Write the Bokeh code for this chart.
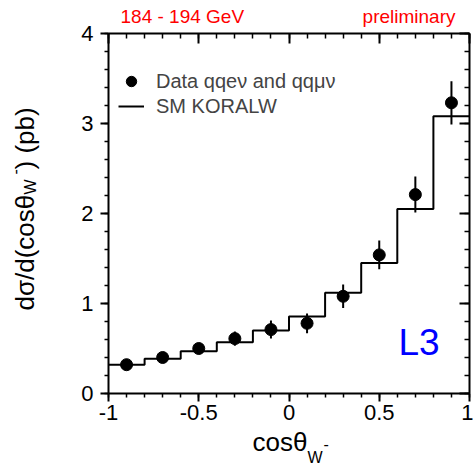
import math
from bokeh.plotting import figure
from bokeh.models import (Label, LinearAxis, FixedTicker, Legend, LegendItem,
                          ColumnDataSource, Range1d)
from bokeh.embed import file_html
from bokeh.resources import INLINE

# ---- data -------------------------------------------------------------
x_centers = [-0.9, -0.7, -0.5, -0.3, -0.1, 0.1, 0.3, 0.5, 0.7, 0.9]
data_y = [0.32, 0.40, 0.50, 0.61, 0.71, 0.78, 1.08, 1.54, 2.21, 3.23]
data_err = [0.03, 0.04, 0.06, 0.08, 0.10, 0.11, 0.13, 0.16, 0.20, 0.24]

bin_edges = [-1.0, -0.8, -0.6, -0.4, -0.2, 0.0, 0.2, 0.4, 0.6, 0.8, 1.0]
sm_y = [0.32, 0.385, 0.47, 0.57, 0.70, 0.855, 1.12, 1.45, 2.05, 3.08]

x_ticks = [-1, -0.5, 0, 0.5, 1]
x_tick_labels = ["-1", "-0.5", "0", "0.5", "1"]
x_minor = [-1.0, -0.9, -0.8, -0.7, -0.6, -0.5, -0.4, -0.3, -0.2, -0.1, 0.0,
           0.1, 0.2, 0.3, 0.4, 0.5, 0.6, 0.7, 0.8, 0.9, 1.0]
y_ticks = [0, 1, 2, 3, 4]
y_tick_labels = ["0", "1", "2", "3", "4"]
y_minor = [0.0, 0.2, 0.4, 0.6, 0.8, 1.0, 1.2, 1.4, 1.6, 1.8, 2.0, 2.2, 2.4,
           2.6, 2.8, 3.0, 3.2, 3.4, 3.6, 3.8, 4.0]
x_lim = (-1.0, 1.0)
y_lim = (0.0, 4.0)

FONT = "Liberation Sans"

# ---- layout geometry (page pixels) -------------------------------------
W, H = 473, 472
FL, FR, FT, FB = 108.0, 469.0, 33.0, 393.0   # edges of the axes box
KX = (FR - FL) / (x_lim[1] - x_lim[0])       # px per x unit
KY = (FB - FT) / (y_lim[1] - y_lim[0])       # px per y unit


def dx(px):
    return x_lim[0] + (px - FL) / KX


def dy(py):
    return y_lim[0] + (FB - py) / KY


p = figure(width=W, height=H,
           x_range=Range1d(dx(0), dx(W)), y_range=Range1d(dy(H), dy(0)),
           output_backend="svg", toolbar_location=None,
           min_border=0, min_border_left=0, min_border_right=0,
           min_border_top=0, min_border_bottom=0,
           x_axis_location=None, y_axis_location=None)
p.grid.visible = False
p.outline_line_color = None
p.background_fill_color = "white"
p.border_fill_color = "white"


def style_axis(ax, ticks, minor, labels, outward, show_labels):
    ax.ticker = FixedTicker(ticks=ticks, minor_ticks=minor)
    ax.axis_line_width = 2
    ax.axis_line_color = "black"
    ax.major_tick_line_width = 2
    ax.minor_tick_line_width = 1.5
    if outward:
        ax.major_tick_out, ax.major_tick_in = 8, 0
        ax.minor_tick_out, ax.minor_tick_in = 4, 0
    else:
        ax.major_tick_out, ax.major_tick_in = 0, 10
        ax.minor_tick_out, ax.minor_tick_in = 0, 5
    if show_labels:
        ax.major_label_overrides = {t: l for t, l in zip(ticks, labels)}
        ax.major_label_text_font = FONT
        ax.major_label_text_font_size = "22px"
        ax.major_label_text_color = "black"
    else:
        ax.major_label_text_font_size = "0px"
        ax.major_label_standoff = 0
        ax.major_label_overrides = {t: "" for t in ticks}
    ax.axis_label = None


bottom = LinearAxis(fixed_location=y_lim[0], bounds=x_lim)
style_axis(bottom, x_ticks, x_minor, x_tick_labels, True, True)
bottom.major_label_standoff = 3
top = LinearAxis(fixed_location=y_lim[1], bounds=x_lim)
style_axis(top, x_ticks, x_minor, x_tick_labels, False, False)
left = LinearAxis(fixed_location=x_lim[0], bounds=y_lim)
style_axis(left, y_ticks, y_minor, y_tick_labels, True, True)
left.major_label_standoff = 7
right = LinearAxis(fixed_location=x_lim[1], bounds=y_lim)
style_axis(right, y_ticks, y_minor, y_tick_labels, False, False)
p.add_layout(bottom, "below")
p.add_layout(top, "above")
p.add_layout(left, "left")
p.add_layout(right, "right")

# ---- marks ------------------------------------------------------------
src = ColumnDataSource(dict(
    x=x_centers, y=data_y,
    lo=[v - e for v, e in zip(data_y, data_err)],
    hi=[v + e for v, e in zip(data_y, data_err)]))

step = p.step(x=bin_edges, y=sm_y + [sm_y[-1]], mode="after",
              line_color="black", line_width=2)
p.segment(x0="x", y0="lo", x1="x", y1="hi", source=src,
          line_color="black", line_width=2)
pts = p.scatter(x="x", y="y", source=src, size=12, marker="circle",
                fill_color="black", line_color="black")


def make_legend(label, renderer, left_px, center_py):
    gw, gh = 26, 28
    return Legend(items=[LegendItem(label=label, renderers=[renderer])],
                  location=(left_px, H - (center_py + gh / 2)),
                  padding=0, margin=0, spacing=0,
                  glyph_width=gw, glyph_height=gh, label_height=20,
                  label_standoff=12, border_line_color=None,
                  background_fill_alpha=0,
                  label_text_font=FONT, label_text_font_size="20px")


p.add_layout(make_legend("Data qqe\u03bd and qq\u03bc\u03bd", pts, 118, 81))
p.add_layout(make_legend("SM KORALW", step, 118, 106))

# ---- texts --------------------------------------------------------------
MID = 0.36   # distance from baseline to the text's middle, in em


def lab(text, px, base, size, color="black", align="left", angle=0.0):
    """Place text whose baseline is at page pixel `base` (y, or x if rotated)."""
    if angle == 0.0:
        ax_, ay_ = px, base - MID * size
    else:  # rotated 90 deg CCW: glyph tops point to the left
        ax_, ay_ = base - MID * size, px
    p.add_layout(Label(x=dx(ax_), y=dy(ay_), text=text, text_font=FONT,
                       text_font_size=f"{size}px", text_color=color,
                       text_align=align, text_baseline="middle",
                       angle=angle))


lab("184 - 194 GeV", 120, 23, 19, color="red")
lab("preliminary", 455, 23, 19, color="red", align="right")
lab("L3", 398, 355, 37, color="blue")

# x-axis label: cos theta_{W^-}
lab("cos\u03b8", 252, 451, 26)
lab("W", 307, 463, 16)
lab("-", 323, 449, 16)

# y-axis label: d sigma / d(cos theta_{W^-}) (pb)
R = math.pi / 2
lab("d\u03c3/d(cos\u03b8", 310, 33.5, 26, angle=R)
lab("W", 194, 36, 16, angle=R)
lab("-", 174, 20, 16, angle=R)
lab(") (pb)", 169, 33.5, 26, angle=R)

open("out.html", "w").write(file_html(p, INLINE))
